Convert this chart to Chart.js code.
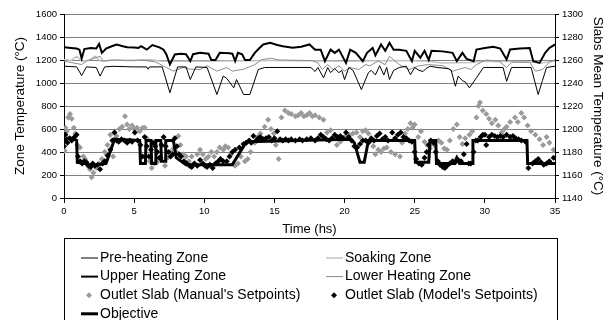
<!DOCTYPE html>
<html>
<head>
<meta charset="utf-8">
<script src="https://cdn.jsdelivr.net/npm/chart.js@4/dist/chart.umd.min.js"></script>
<style>
  body { margin: 0; background: #fff; }
</style>
</head>
<body>
<canvas id="furnaceChart" width="610" height="320"></canvas>
<script>
// time (hs), value pairs
const preHeating = [[0,1146],[0.9,1140],[1.26,1065],[1.6,1140],[2.3,1135],[2.57,1060],[2.9,1140],[3.5,1145],[5,1140],[5.9,1140],[6.0,1120],[6.1,1140],[7.0,1140],[7.55,915],[8.1,1140],[8.7,1140],[9.0,1030],[9.4,1140],[10.2,1135],[10.9,900],[11.35,1060],[11.6,1040],[12.1,958],[12.3,1030],[12.8,900],[13.25,900],[13.85,1117],[14.3,1135],[17.6,1135],[17.9,1100],[18.1,1135],[18.5,1045],[18.8,1135],[19.0,1090],[19.3,1125],[19.6,1090],[19.8,1110],[20.0,1030],[20.3,1135],[20.6,1110],[21.2,943],[21.7,1090],[21.9,1110],[22.2,1070],[22.5,1150],[22.8,1070],[23.0,1135],[23.2,1030],[23.5,1110],[23.9,1135],[24.4,1146],[24.7,1072],[25.0,1135],[25.3,1110],[25.6,1100],[25.8,1125],[26.1,1146],[26.6,1135],[27.4,1125],[27.6,1110],[27.9,972],[28.1,1060],[28.4,1020],[28.6,1010],[28.9,958],[29.4,1045],[29.9,1135],[31.3,1135],[31.55,1015],[31.9,1135],[33.3,1135],[33.8,900],[34.1,1020],[34.4,1135],[35,1146]];

const soaking = [[0,1204],[0.5,1195],[0.9,1233],[1.3,1190],[1.8,1200],[2.2,1233],[2.6,1190],[3.5,1200],[5,1195],[6,1205],[7,1190],[10,1190],[15,1195],[20,1190],[24,1195],[26,1190],[27,1175],[29,1178],[30,1190],[33,1185],[34,1175],[35,1190]];

const upperHeating = [[0,1311],[0.5,1305],[0.9,1300],[1.1,1290],[1.26,1213],[1.45,1295],[1.9,1305],[2.3,1300],[2.5,1340],[2.7,1262],[3.0,1300],[3.4,1320],[3.75,1335],[4.2,1320],[4.5,1311],[5.0,1308],[5.3,1305],[5.5,1320],[5.9,1290],[6.3,1330],[6.8,1310],[7.1,1290],[7.3,1248],[7.55,1161],[7.9,1248],[8.3,1255],[8.7,1250],[9.0,1190],[9.2,1250],[9.7,1262],[10.3,1255],[10.5,1200],[10.8,1200],[11.1,1262],[11.8,1258],[12.0,1255],[12.2,1190],[12.4,1262],[12.7,1250],[12.9,1200],[13.25,1200],[13.6,1262],[13.9,1300],[14.2,1335],[14.7,1350],[15.2,1330],[15.6,1320],[16.3,1306],[16.9,1315],[17.5,1335],[17.9,1290],[18.3,1290],[18.6,1190],[19.0,1290],[19.3,1262],[19.6,1290],[20.1,1175],[20.4,1290],[20.8,1262],[21.3,1190],[21.6,1262],[22.0,1305],[22.2,1240],[22.6,1335],[22.9,1280],[23.2,1350],[23.5,1290],[23.9,1290],[24.4,1280],[24.8,1190],[25.0,1280],[25.4,1220],[25.7,1280],[26.0,1200],[26.2,1280],[27.0,1275],[27.7,1262],[28.0,1190],[28.4,1262],[28.7,1210],[29.2,1190],[29.4,1291],[30.0,1305],[30.6,1315],[31.1,1300],[31.55,1205],[31.8,1291],[32.5,1300],[33.2,1305],[33.45,1190],[33.9,1175],[34.3,1262],[34.6,1305],[35,1335]];

const lowerHeating = [[0,1190],[1.26,1161],[1.6,1190],[2.57,1233],[2.8,1190],[3.6,1200],[4.5,1195],[5.5,1200],[6.5,1185],[7.3,1135],[7.8,1103],[8.5,1135],[9.0,1120],[9.7,1117],[10.2,1150],[10.9,1103],[11.6,1135],[12.0,1103],[12.8,1120],[13.6,1160],[14.1,1204],[14.8,1215],[15.3,1200],[17.7,1195],[18.1,1175],[18.4,1117],[18.8,1160],[19.2,1117],[19.6,1150],[20.0,1103],[20.4,1135],[21.0,1117],[21.5,1160],[21.8,1150],[22.4,1190],[22.9,1160],[23.2,1233],[23.6,1190],[23.9,1160],[24.6,1117],[25.3,1150],[26.0,1160],[27.0,1150],[27.7,1103],[28.6,1135],[29.0,1117],[29.4,1160],[30.1,1200],[31.0,1190],[31.55,1135],[31.9,1180],[33.2,1180],[33.6,1103],[34.1,1117],[34.6,1180],[35,1204]];

const slabManual = [[0.05,1181],[0.1,1201],[0.2,1198],[0.3,1210],[0.43,1213],[0.55,1209],[0.7,1201],[0.8,1196],[0.95,1186],[1.14,1184],[1.38,1176],[1.5,1174],[1.7,1168],[1.85,1165],[1.97,1158],[2.1,1162],[2.3,1166],[2.5,1170],[2.7,1174],[2.9,1180],[3.1,1186],[3.3,1195],[3.5,1176],[3.6,1191],[3.75,1194],[3.95,1200],[4.15,1202],[4.35,1211],[4.5,1204],[4.65,1200],[4.85,1203],[5.0,1200],[5.2,1201],[5.4,1198],[5.6,1201],[5.75,1201],[5.9,1192],[6.1,1172],[6.25,1166],[6.45,1170],[6.7,1172],[6.9,1175],[7.2,1168],[7.4,1175],[7.6,1180],[7.8,1183],[8.0,1180],[8.15,1194],[8.3,1186],[8.5,1178],[8.7,1176],[8.9,1172],[9.1,1176],[9.3,1170],[9.5,1178],[9.7,1182],[9.9,1178],[10.1,1174],[10.3,1176],[10.5,1180],[10.7,1176],[10.9,1180],[11.1,1184],[11.35,1182],[11.5,1185],[11.7,1184],[11.9,1178],[12.2,1168],[12.4,1170],[12.6,1176],[12.9,1172],[13.1,1174],[13.3,1180],[13.6,1188],[13.8,1193],[14.0,1196],[14.3,1202],[14.55,1208],[14.75,1200],[14.95,1196],[15.1,1186],[15.3,1174],[15.5,1210],[15.75,1216],[16.0,1214],[16.2,1213],[16.5,1211],[16.7,1212],[16.9,1214],[17.1,1211],[17.3,1212],[17.5,1214],[17.7,1211],[17.9,1212],[18.2,1210],[18.5,1208],[18.75,1197],[19.0,1199],[19.2,1193],[19.45,1186],[19.7,1189],[19.9,1192],[20.1,1194],[20.35,1195],[20.6,1196],[20.85,1197],[21.1,1193],[21.3,1198],[21.5,1199],[21.7,1196],[21.9,1190],[22.05,1185],[22.2,1178],[22.4,1182],[22.6,1180],[22.8,1183],[23.0,1184],[23.3,1180],[23.6,1178],[23.95,1176],[24.1,1188],[24.3,1196],[24.5,1200],[24.7,1205],[24.85,1201],[25.0,1204],[25.25,1193],[25.45,1198],[25.7,1189],[25.9,1186],[26.1,1183],[26.4,1186],[26.7,1190],[26.9,1188],[27.1,1183],[27.3,1182],[27.5,1190],[27.75,1200],[28.0,1204],[28.2,1193],[28.4,1187],[28.6,1192],[28.9,1195],[29.1,1198],[29.4,1210],[29.55,1220],[29.65,1223],[29.85,1216],[30.1,1213],[30.3,1209],[30.5,1205],[30.75,1208],[30.95,1203],[31.2,1197],[31.4,1200],[31.55,1202],[31.8,1206],[32.15,1210],[32.35,1206],[32.6,1214],[32.8,1210],[33.05,1203],[33.3,1198],[33.6,1195],[33.9,1191],[34.15,1186],[34.4,1193],[34.6,1188],[34.9,1182]];

const slabModel = [[0.0,1185],[0.1,1195],[0.25,1188],[0.4,1192],[0.55,1190],[0.75,1193],[0.9,1195],[1.0,1176],[1.15,1172],[1.3,1170],[1.45,1172],[1.6,1171],[1.75,1168],[1.9,1167],[2.05,1170],[2.2,1168],[2.4,1169],[2.57,1165],[2.75,1170],[2.9,1172],[3.1,1177],[3.3,1182],[3.45,1190],[3.6,1197],[3.75,1190],[3.9,1189],[4.1,1191],[4.3,1190],[4.5,1188],[4.7,1190],[4.85,1189],[5.05,1197],[5.25,1190],[5.45,1186],[5.6,1176],[5.75,1193],[5.9,1185],[6.05,1176],[6.2,1182],[6.35,1188],[6.5,1185],[6.65,1180],[6.8,1175],[6.95,1186],[7.1,1193],[7.25,1185],[7.45,1180],[7.6,1176],[7.75,1178],[7.9,1192],[8.05,1185],[8.2,1178],[8.35,1176],[8.55,1172],[8.75,1170],[8.95,1168],[9.1,1167],[9.3,1170],[9.5,1168],[9.7,1173],[9.9,1170],[10.05,1168],[10.2,1167],[10.4,1169],[10.6,1166],[10.8,1170],[11.0,1172],[11.15,1174],[11.35,1172],[11.6,1172],[11.8,1176],[12.0,1180],[12.2,1182],[12.5,1184],[12.8,1187],[13.0,1188],[13.2,1190],[13.35,1188],[13.5,1194],[13.7,1190],[13.85,1192],[14.0,1193],[14.2,1191],[14.4,1192],[14.6,1193],[14.8,1190],[15.0,1192],[15.2,1198],[15.4,1191],[15.6,1190],[15.8,1191],[16.0,1190],[16.2,1191],[16.5,1190],[16.8,1191],[17.0,1190],[17.3,1191],[17.6,1192],[17.9,1190],[18.1,1192],[18.3,1195],[18.5,1193],[18.7,1191],[18.9,1190],[19.1,1192],[19.3,1195],[19.5,1193],[19.7,1194],[19.9,1192],[20.1,1197],[20.3,1193],[20.5,1190],[20.7,1185],[20.9,1184],[21.1,1187],[21.3,1190],[21.5,1190],[21.7,1188],[21.9,1192],[22.1,1190],[22.3,1194],[22.5,1196],[22.7,1191],[22.9,1193],[23.1,1190],[23.4,1197],[23.6,1192],[23.8,1195],[24.0,1197],[24.2,1193],[24.4,1192],[24.6,1190],[24.8,1189],[25.0,1180],[25.1,1174],[25.3,1170],[25.5,1169],[25.7,1175],[25.85,1180],[26.0,1186],[26.15,1190],[26.35,1188],[26.5,1180],[26.65,1172],[26.8,1169],[27.0,1167],[27.15,1166],[27.3,1168],[27.5,1170],[27.7,1172],[27.9,1171],[28.1,1173],[28.3,1172],[28.5,1178],[28.7,1187],[28.85,1170],[29.0,1170],[29.2,1180],[29.35,1190],[29.5,1190],[29.7,1193],[29.85,1195],[30.0,1195],[30.1,1186],[30.3,1193],[30.5,1195],[30.7,1194],[30.9,1193],[31.1,1194],[31.3,1193],[31.55,1195],[31.8,1193],[32.0,1194],[32.2,1192],[32.4,1191],[32.6,1190],[32.9,1189],[33.1,1166],[33.4,1170],[33.6,1172],[33.8,1174],[34.0,1171],[34.2,1169],[34.4,1170],[34.6,1172],[34.9,1175]];

const objective = [[0,1188],[0.2,1192],[0.6,1192],[0.9,1190],[0.95,1171],[1.5,1170],[2.0,1168],[3.0,1170],[3.6,1191],[5.4,1190],[5.45,1170],[5.8,1170],[5.85,1190],[6.2,1190],[6.25,1170],[6.5,1170],[6.55,1190],[6.9,1190],[6.95,1172],[7.2,1172],[7.25,1190],[7.8,1190],[8.0,1175],[8.7,1169],[10.2,1169],[12.0,1169],[13.0,1189],[20.4,1191],[20.7,1188],[21.1,1171],[21.4,1171],[21.7,1190],[25.0,1190],[25.05,1171],[26.0,1171],[26.1,1190],[26.5,1190],[26.55,1170],[27.8,1170],[28.0,1175],[28.2,1170],[29.1,1170],[29.15,1190],[33.0,1190],[33.05,1170],[35,1170]];

const FONT = '"Liberation Sans", Arial, sans-serif';
const pts = arr => arr.map(p => ({ x: p[0], y: p[1] }));
const plain = v => String(v); // no thousands separator

// legend in a box, two columns, like the original
const boxLegend = {
  id: 'boxLegend',
  afterDraw(chart) {
    const ctx = chart.ctx;
    const left = chart.chartArea.left;
    const right = chart.chartArea.right + 2;
    const top = 238;
    ctx.save();
    ctx.strokeStyle = '#000';
    ctx.lineWidth = 1;
    ctx.strokeRect(left + 0.5, top + 0.5, right - left, 120);
    ctx.font = '14px ' + FONT;
    ctx.textBaseline = 'middle';
    ctx.fillStyle = '#000';
    chart.data.datasets.forEach((ds, i) => {
      const col = i % 2, row = Math.floor(i / 2);
      const x0 = left + (col ? 262 : 17);
      const y = top + 20 + row * 18.6;
      if (ds.showLine) {
        ctx.strokeStyle = ds.borderColor;
        ctx.lineWidth = ds.borderWidth;
        ctx.beginPath();
        ctx.moveTo(x0, y);
        ctx.lineTo(x0 + 17, y);
        ctx.stroke();
      } else {
        const cx = x0 + 8, r = 3;
        ctx.fillStyle = ds.backgroundColor;
        ctx.beginPath();
        ctx.moveTo(cx, y - r);
        ctx.lineTo(cx + r, y);
        ctx.lineTo(cx, y + r);
        ctx.lineTo(cx - r, y);
        ctx.closePath();
        ctx.fill();
      }
      ctx.fillStyle = '#000';
      ctx.fillText(ds.label, x0 + 19, y);
    });
    ctx.restore();
  }
};

const lineSet = (label, data, color, width, axis, order) => ({
  label: label,
  data: pts(data),
  showLine: true,
  borderColor: color,
  backgroundColor: color,
  borderWidth: width,
  pointRadius: 0,
  tension: 0,
  yAxisID: axis,
  order: order
});

const dotSet = (label, data, color, axis, order) => ({
  label: label,
  data: pts(data),
  showLine: false,
  pointStyle: 'rectRot',
  pointRadius: 3,
  borderWidth: 0,
  borderColor: color,
  backgroundColor: color,
  yAxisID: axis,
  order: order
});

new Chart(document.getElementById('furnaceChart'), {
  type: 'scatter',
  data: {
    datasets: [
      lineSet('Pre-heating Zone', preHeating, '#000', 1, 'yL', 4),
      lineSet('Soaking Zone', soaking, '#c4c4c4', 1.5, 'yL', 6),
      lineSet('Upper Heating Zone', upperHeating, '#000', 2, 'yL', 3),
      lineSet('Lower Heating Zone', lowerHeating, '#8c8c8c', 1, 'yL', 5),
      dotSet("Outlet Slab (Manual's Setpoints)", slabManual, '#9a9a9a', 'yR', 7),
      dotSet("Outlet Slab (Model's Setpoints)", slabModel, '#000', 'yR', 2),
      lineSet('Objective', objective, '#000', 3, 'yR', 1)
    ]
  },
  options: {
    responsive: false,
    animation: false,
    layout: { padding: { top: 14, bottom: 82, left: 0, right: 0 } },
    plugins: {
      legend: { display: false },
      tooltip: { enabled: false }
    },
    scales: {
      x: {
        type: 'linear',
        min: 0,
        max: 35,
        ticks: { stepSize: 5, color: '#000', font: { family: FONT, size: 9.5 }, padding: 3, callback: plain },
        grid: { drawOnChartArea: false, tickLength: 5, tickColor: '#000' },
        border: { color: '#000' },
        title: { display: true, text: 'Time (hs)', color: '#000', font: { family: FONT, size: 13 }, padding: { top: 0, bottom: 1 } },
        afterFit: s => { s.height = 40; }
      },
      yL: {
        position: 'left',
        min: 0,
        max: 1600,
        ticks: { stepSize: 200, color: '#000', font: { family: FONT, size: 9.5 }, padding: 3, callback: plain },
        grid: { color: '#808080', tickLength: 4, tickColor: '#000' },
        border: { color: '#000' },
        title: { display: true, text: 'Zone Temperature (°C)', color: '#000', font: { family: FONT, size: 13.5 }, padding: { top: 12, bottom: 0 } },
        afterFit: s => { s.width = 64; }
      },
      yR: {
        position: 'right',
        min: 1140,
        max: 1300,
        ticks: { stepSize: 20, color: '#000', font: { family: FONT, size: 9.5 }, padding: 3, callback: plain },
        grid: { drawOnChartArea: false, tickLength: 4, tickColor: '#000' },
        border: { color: '#000' },
        title: { display: true, text: 'Slabs Mean Temperature (°C)', color: '#000', font: { family: FONT, size: 13.5 }, padding: { top: 4, bottom: 0 } },
        afterFit: s => { s.width = 55; }
      }
    }
  },
  plugins: [boxLegend]
});
</script>
</body>
</html>
